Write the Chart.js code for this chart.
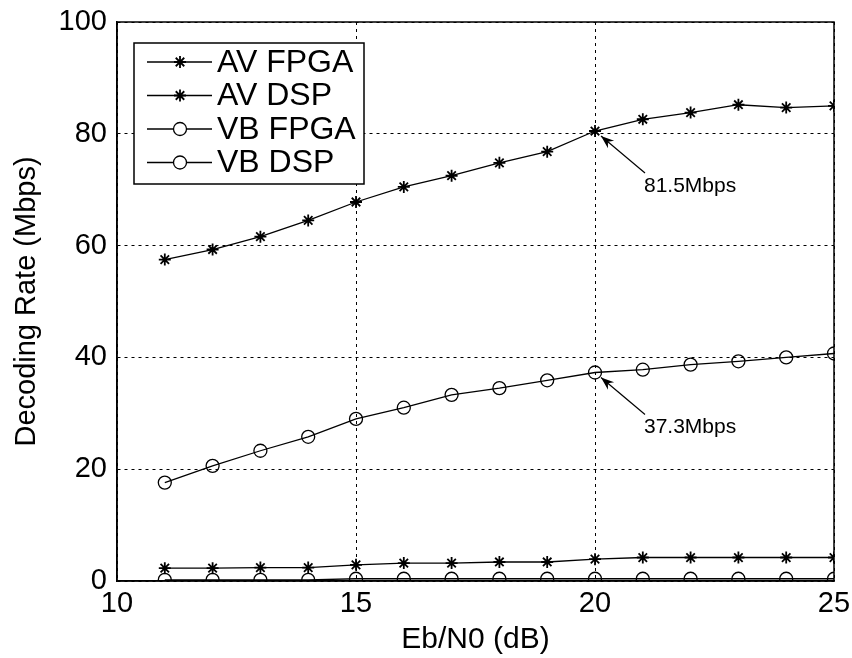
<!DOCTYPE html>
<html>
<head>
<meta charset="utf-8">
<script src="https://cdn.jsdelivr.net/npm/chart.js@4/dist/chart.umd.min.js"></script>
<style>
  html, body { margin: 0; padding: 0; background: #fff; }
  canvas { display: block; }
</style>
</head>
<body>
<canvas id="canvas" width="852" height="658"></canvas>
<script>
// Eb/N0 (dB)
var ebn0 = [11, 12, 13, 14, 15, 16, 17, 18, 19, 20, 21, 22, 23, 24, 25];
// decoding rate (Mbps)
var avFpga = [57.5, 59.3, 61.6, 64.5, 67.8, 70.5, 72.5, 74.8, 76.8, 80.5, 82.6, 83.8, 85.2, 84.7, 85.0];
var avDsp  = [2.3, 2.3, 2.4, 2.4, 2.9, 3.2, 3.2, 3.4, 3.4, 3.9, 4.2, 4.2, 4.2, 4.2, 4.2];
var vbFpga = [17.6, 20.6, 23.3, 25.8, 29.0, 31.0, 33.3, 34.5, 35.9, 37.3, 37.8, 38.7, 39.3, 40.0, 40.7];
var vbDsp  = [0.2, 0.2, 0.2, 0.2, 0.4, 0.4, 0.4, 0.4, 0.4, 0.4, 0.4, 0.4, 0.4, 0.4, 0.4];

var seriesNames = ['AV FPGA', 'AV DSP', 'VB FPGA', 'VB DSP'];
var seriesMarkers = ['star', 'star', 'circle', 'circle'];
var seriesValues = [avFpga, avDsp, vbFpga, vbDsp];

var xTicks = [10, 15, 20, 25];
var yTicks = [0, 20, 40, 60, 80, 100];

var notes = [
  { x: 20, y: 80.5, label: '81.5Mbps' },
  { x: 20, y: 37.3, label: '37.3Mbps' }
];

var FONT = "'Liberation Sans', Arial, sans-serif";

function toPoints(vals) {
  return vals.map(function (v, i) { return { x: ebn0[i], y: v }; });
}

var datasets = seriesValues.map(function (vals, i) {
  var circ = seriesMarkers[i] == 'circle';
  return {
    label: seriesNames[i],
    data: toPoints(vals),
    borderColor: '#000',
    borderWidth: 1.3,
    backgroundColor: 'rgba(0,0,0,0)',
    pointStyle: seriesMarkers[i],
    pointRadius: circ ? 6.5 : 6,
    pointBorderWidth: circ ? 1.3 : 1.8,
    pointBorderColor: '#000',
    pointBackgroundColor: 'rgba(0,0,0,0)',
    tension: 0
  };
});

function drawMarker(ctx, style, x, y, r) {
  ctx.beginPath();
  if (style == 'circle') {
    ctx.arc(x, y, r, 0, Math.PI * 2);
  } else {
    for (var k = 0; k < 4; k++) {
      var a = k * Math.PI / 4;
      ctx.moveTo(x - Math.cos(a) * r, y - Math.sin(a) * r);
      ctx.lineTo(x + Math.cos(a) * r, y + Math.sin(a) * r);
    }
  }
  ctx.stroke();
}

// box around plot, legend box, arrow notes
var extras = {
  id: 'extras',
  afterDraw: function (chart) {
    var ctx = chart.ctx, a = chart.chartArea;
    var xs = chart.scales.x, ys = chart.scales.y;
    ctx.save();
    ctx.strokeStyle = '#000';
    ctx.lineWidth = 1.5;
    ctx.strokeRect(a.left, a.top, a.right - a.left, a.bottom - a.top);

    // legend
    var lx = a.left + 17, ly = a.top + 21, lw = 230, lh = 141;
    ctx.fillStyle = '#fff';
    ctx.fillRect(lx, ly, lw, lh);
    ctx.lineWidth = 1.5;
    ctx.strokeRect(lx, ly, lw, lh);
    ctx.font = '32px ' + FONT;
    ctx.textBaseline = 'middle';
    ctx.textAlign = 'left';
    for (var i = 0; i < seriesNames.length; i++) {
      var ry = ly + 19 + i * 33.5;
      ctx.lineWidth = 1.3;
      ctx.beginPath();
      ctx.moveTo(lx + 13, ry);
      ctx.lineTo(lx + 78, ry);
      ctx.stroke();
      ctx.fillStyle = '#fff';
      if (seriesMarkers[i] == 'circle') {
        ctx.beginPath(); ctx.arc(lx + 46, ry, 6.5, 0, Math.PI * 2); ctx.fill();
      }
      ctx.lineWidth = seriesMarkers[i] == 'circle' ? 1.3 : 1.8;
      drawMarker(ctx, seriesMarkers[i], lx + 46, ry, seriesMarkers[i] == 'circle' ? 6.5 : 6);
      ctx.fillStyle = '#000';
      ctx.fillText(seriesNames[i], lx + 83, ry + 1);
    }

    // arrows
    ctx.font = '21px ' + FONT;
    notes.forEach(function (n) {
      var px = xs.getPixelForValue(n.x), py = ys.getPixelForValue(n.y);
      var tipX = px + 6, tipY = py + 5;
      var tailX = px + 50, tailY = py + 42;
      var ang = Math.atan2(tipY - tailY, tipX - tailX);
      ctx.lineWidth = 1.2;
      ctx.beginPath();
      ctx.moveTo(tailX, tailY);
      ctx.lineTo(tipX, tipY);
      ctx.stroke();
      ctx.beginPath();
      ctx.moveTo(tipX, tipY);
      ctx.lineTo(tipX - 14 * Math.cos(ang - 0.35), tipY - 14 * Math.sin(ang - 0.35));
      ctx.lineTo(tipX - 9 * Math.cos(ang), tipY - 9 * Math.sin(ang));
      ctx.lineTo(tipX - 14 * Math.cos(ang + 0.35), tipY - 14 * Math.sin(ang + 0.35));
      ctx.closePath();
      ctx.fillStyle = '#000';
      ctx.fill();
      ctx.textAlign = 'left';
      ctx.textBaseline = 'middle';
      ctx.fillText(n.label, tailX - 1, tailY + 13);
    });
    ctx.restore();
  }
};

var config = {
  type: 'line',
  data: { datasets: datasets },
  options: {
    responsive: false,
    animation: false,
    layout: { padding: { top: 22, right: 18, left: 0, bottom: 0 } },
    plugins: { legend: { display: false }, tooltip: { enabled: false } },
    scales: {
      x: {
        type: 'linear',
        min: 10, max: 25,
        afterBuildTicks: function (s) { s.ticks = xTicks.map(function (v) { return { value: v }; }); },
        afterFit: function (s) { s.height = 77; s.paddingLeft = 0; s.paddingRight = 0; },
        grid: { color: '#000', lineWidth: 1, drawTicks: false },
        border: { display: true, color: '#000', width: 1.5, dash: [3, 4] },
        ticks: { color: '#000', font: { family: FONT, size: 29 }, padding: 6, maxRotation: 0 },
        title: { display: true, text: 'Eb/N0 (dB)', color: '#000', font: { family: FONT, size: 30 }, padding: { top: 0, bottom: 0 } }
      },
      y: {
        min: 0, max: 100,
        afterBuildTicks: function (s) { s.ticks = yTicks.map(function (v) { return { value: v }; }); },
        afterFit: function (s) { s.width = 117; s.paddingTop = 0; s.paddingBottom = 0; },
        grid: { color: '#000', lineWidth: 1, drawTicks: false },
        border: { display: true, color: '#000', width: 1.5, dash: [3, 4] },
        ticks: { color: '#000', font: { family: FONT, size: 29 }, padding: 10 },
        title: { display: true, text: 'Decoding Rate (Mbps)', color: '#000', font: { family: FONT, size: 29 }, padding: { top: 10, bottom: 4 } }
      }
    }
  },
  plugins: [extras]
};

new Chart(document.getElementById('canvas'), config);
</script>
</body>
</html>
